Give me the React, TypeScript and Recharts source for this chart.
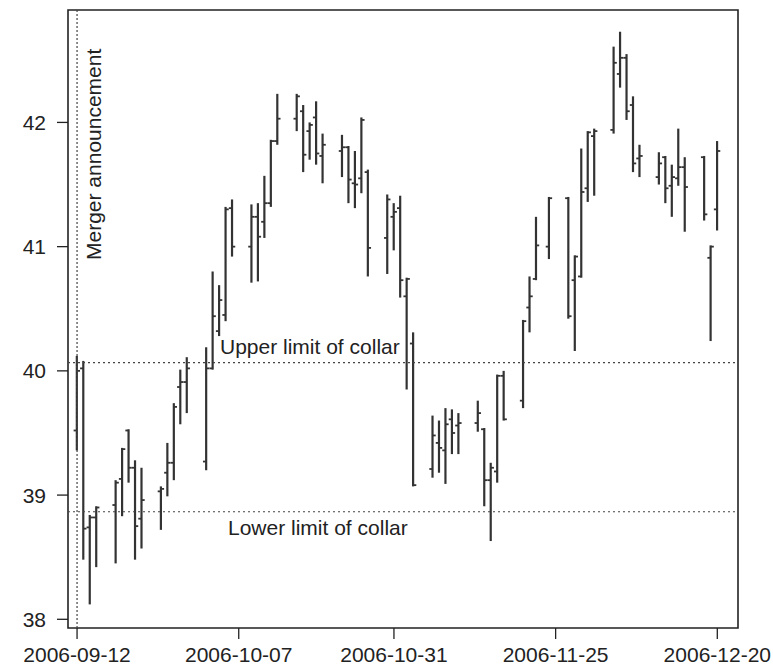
import { ComposedChart, Bar, XAxis, YAxis, ReferenceLine, ReferenceArea } from "recharts";

// trading days, Sep 12 - Dec 20 2006
const tradeDates = [
  "2006-09-12", "2006-09-13", "2006-09-14", "2006-09-15",
  "2006-09-18", "2006-09-19", "2006-09-20", "2006-09-21", "2006-09-22",
  "2006-09-25", "2006-09-26", "2006-09-27", "2006-09-28", "2006-09-29",
  "2006-10-02", "2006-10-03", "2006-10-04", "2006-10-05", "2006-10-06",
  "2006-10-09", "2006-10-10", "2006-10-11", "2006-10-12", "2006-10-13",
  "2006-10-16", "2006-10-17", "2006-10-18", "2006-10-19", "2006-10-20",
  "2006-10-23", "2006-10-24", "2006-10-25", "2006-10-26", "2006-10-27",
  "2006-10-30", "2006-10-31", "2006-11-01", "2006-11-02", "2006-11-03",
  "2006-11-06", "2006-11-07", "2006-11-08", "2006-11-09", "2006-11-10",
  "2006-11-13", "2006-11-14", "2006-11-15", "2006-11-16", "2006-11-17",
  "2006-11-20", "2006-11-21", "2006-11-22", "2006-11-24",
  "2006-11-27", "2006-11-28", "2006-11-29", "2006-11-30", "2006-12-01",
  "2006-12-04", "2006-12-05", "2006-12-06", "2006-12-07", "2006-12-08",
  "2006-12-11", "2006-12-12", "2006-12-13", "2006-12-14", "2006-12-15",
  "2006-12-18", "2006-12-19", "2006-12-20",
];

const opens = [
  39.52, 40.02, 38.74, 38.82,
  38.92, 39.13, 39.52, 39.22, 38.81,
  39.03, 39.18, 39.26, 39.87, 39.91,
  39.27, 40.02, 40.32, 40.45, 41.31,
  41.0, 41.24, 41.2, 41.35, 41.85,
  42.03, 42.09, 41.93, 42.04, 41.73,
  41.77, 41.8, 41.51, 41.55, 41.6,
  41.07, 41.24, 41.31, 40.6, 40.22,
  39.21, 39.42, 39.36, 39.61, 39.56,
  39.58, 39.53, 39.12, 39.19, 39.96,
  39.76, 40.51, 40.74, 41.0,
  41.39, 40.73, 40.76, 41.47, 41.89,
  41.94, 42.39, 42.52, 42.14, 41.71,
  41.56, 41.72, 41.49, 41.55, 41.64,
  41.72, 40.91, 41.3,
];

const highs = [
  40.12, 40.08, 38.84, 38.91,
  39.12, 39.38, 39.53, 39.28, 39.22,
  39.07, 39.42, 39.74, 40.01, 40.11,
  40.19, 40.8, 40.69, 41.32, 41.38,
  41.34, 41.35, 41.57, 41.86, 42.23,
  42.23, 42.14, 42.0, 42.17, 41.91,
  41.9, 41.81, 41.77, 42.04, 41.62,
  41.42, 41.35, 41.41, 40.75, 40.31,
  39.64, 39.6, 39.7, 39.69, 39.66,
  39.76, 39.54, 39.26, 39.97, 40.0,
  40.41, 40.76, 41.24, 41.4,
  41.4, 40.93, 41.79, 41.93, 41.95,
  42.61, 42.73, 42.55, 42.21, 41.82,
  41.76, 41.73, 41.66, 41.95, 41.72,
  41.73, 41.01, 41.85,
];

const lows = [
  39.36, 38.48, 38.12, 38.42,
  38.45, 38.83, 39.1, 38.48, 38.57,
  38.72, 38.99, 39.12, 39.57, 39.66,
  39.2, 40.01, 40.28, 40.4, 40.92,
  40.71, 40.72, 41.07, 41.32, 41.82,
  41.93, 41.6, 41.7, 41.66, 41.51,
  41.56, 41.35, 41.31, 41.43, 40.76,
  40.78, 40.97, 40.59, 39.85, 39.07,
  39.14, 39.18, 39.09, 39.33, 39.33,
  39.51, 38.91, 38.63, 39.1, 39.6,
  39.7, 40.31, 40.73, 40.9,
  40.42, 40.16, 40.75, 41.36, 41.41,
  41.91, 42.28, 42.02, 41.6, 41.56,
  41.5, 41.35, 41.24, 41.49, 41.12,
  41.21, 40.24, 41.13,
];

const closes = [
  40.0, 38.73, 38.82, 38.9,
  39.1, 39.37, 39.22, 38.75, 38.96,
  39.05, 39.26, 39.71, 39.91, 40.02,
  40.02, 40.44, 40.57, 41.3, 41.0,
  41.24, 41.08, 41.35, 41.85, 42.03,
  42.21, 41.74, 41.98, 41.75, 41.82,
  41.8, 41.54, 41.5, 42.02, 40.99,
  41.38, 41.28, 40.73, 40.74, 39.08,
  39.48, 39.38, 39.57, 39.5, 39.58,
  39.66, 39.12, 39.22, 39.96, 39.61,
  40.4, 40.6, 41.01, 41.39,
  40.44, 40.92, 41.44, 41.92, 41.93,
  42.48, 42.52, 42.09, 41.67, 41.73,
  41.67, 41.47, 41.56, 41.64, 41.48,
  41.26, 41.0, 41.77,
];

const mergerDate = "2006-09-12";
const xTickDates = ["2006-09-12", "2006-10-07", "2006-10-31", "2006-11-25", "2006-12-20"];
const yTicks = [38, 39, 40, 41, 42];
const collarUpper = 40.066;
const collarLower = 38.866;

const FONT = "'Liberation Sans', Arial, Helvetica, sans-serif";
const INK = "#222";
const BAR_COLOR = "#333";
const X_DOMAIN: [number, number] = [-1.4, 102.2];
const Y_DOMAIN: [number, number] = [37.93, 42.905];

const dayNum = (s: string) =>
  Math.round((Date.parse(s) - Date.parse(mergerDate)) / 86400000);

const data = tradeDates.map((d, i) => ({
  day: dayNum(d),
  open: opens[i],
  high: highs[i],
  low: lows[i],
  close: closes[i],
  range: [lows[i], highs[i]],
}));

const xTicks = xTickDates.map(dayNum);

function OhlcShape(props: any) {
  const { x, y, width, height, payload } = props;
  if (x == null || y == null || !payload) return null;
  const cx = x + width / 2;
  const top = Math.min(y, y + height);
  const bottom = Math.max(y, y + height);
  const span = payload.high - payload.low;
  const toPx = (v: number) =>
    span > 0 ? top + ((payload.high - v) / span) * (bottom - top) : top;
  const yo = toPx(payload.open);
  const yc = toPx(payload.close);
  return (
    <g stroke={BAR_COLOR}>
      <line x1={cx} x2={cx} y1={top} y2={bottom} strokeWidth={2.2} />
      <line x1={cx - 3.2} x2={cx} y1={yo} y2={yo} strokeWidth={1.8} />
      <line x1={cx} x2={cx + 3.2} y1={yc} y2={yc} strokeWidth={1.8} />
    </g>
  );
}

const textStyle = { fontFamily: FONT, fontSize: 21, fill: INK };

function collarLabel(text: string, dx: number, dy: number) {
  return (props: any) => {
    const vb = props.viewBox ?? props;
    return (
      <text x={vb.x + dx} y={vb.y + dy} {...textStyle}>
        {text}
      </text>
    );
  };
}

function mergerLabel(props: any) {
  const vb = props.viewBox ?? props;
  const tx = vb.x + 24;
  const ty = vb.y + 250;
  return (
    <text x={tx} y={ty} transform={`rotate(-90 ${tx} ${ty})`} {...textStyle}>
      Merger announcement
    </text>
  );
}

export default function App() {
  return (
    <div style={{ position: "absolute", left: 0, top: 0, background: "#fff" }}>
      <ComposedChart
        width={773}
        height={669}
        data={data}
        margin={{ top: 10, right: 35, bottom: 0, left: 0 }}
      >
        <XAxis
          type="number"
          dataKey="day"
          domain={X_DOMAIN}
          allowDataOverflow
          ticks={xTicks}
          tickFormatter={(v: number) => xTickDates[xTicks.indexOf(v)] ?? ""}
          height={41}
          tickSize={11}
          tickMargin={8}
          axisLine={false}
          tickLine={{ stroke: INK, strokeWidth: 1.3 }}
          tick={{ fontFamily: FONT, fontSize: 21, fill: INK }}
        />
        <YAxis
          type="number"
          domain={Y_DOMAIN}
          allowDataOverflow
          ticks={yTicks}
          width={68}
          tickSize={11}
          tickMargin={11}
          axisLine={false}
          tickLine={{ stroke: INK, strokeWidth: 1.3 }}
          tick={{ fontFamily: FONT, fontSize: 21, fill: INK }}
        />
        <ReferenceLine
          y={collarUpper}
          stroke="#444"
          strokeDasharray="2 3"
          strokeWidth={1.2}
          label={collarLabel("Upper limit of collar", 152, -9)}
        />
        <ReferenceLine
          y={collarLower}
          stroke="#444"
          strokeDasharray="2 3"
          strokeWidth={1.2}
          label={collarLabel("Lower limit of collar", 160, 23)}
        />
        <ReferenceLine
          x={0}
          stroke="#444"
          strokeDasharray="2 2"
          strokeWidth={1.2}
          label={mergerLabel}
        />
        <Bar
          dataKey="range"
          barSize={6}
          isAnimationActive={false}
          shape={OhlcShape}
        />
        <ReferenceArea
          x1={X_DOMAIN[0]}
          x2={X_DOMAIN[1]}
          y1={Y_DOMAIN[0]}
          y2={Y_DOMAIN[1]}
          fill="none"
          fillOpacity={0}
          stroke={INK}
          strokeWidth={1.6}
          ifOverflow="visible"
        />
      </ComposedChart>
    </div>
  );
}
